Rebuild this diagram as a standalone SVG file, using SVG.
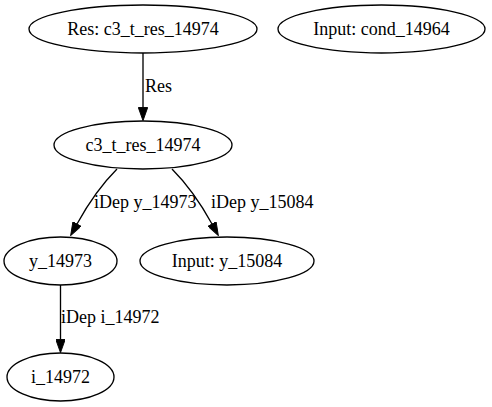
<svg xmlns="http://www.w3.org/2000/svg" width="492" height="407" viewBox="0 0 492 407">
<style>
.n ellipse{fill:none;stroke:#000;stroke-width:1.33}
text{font-family:"Liberation Serif","Times New Roman",serif;font-size:18px;fill:#000}
.n text{text-anchor:middle}
.e path{fill:none;stroke:#000;stroke-width:1.33}
</style>
<defs>
<marker id="ah" markerUnits="userSpaceOnUse" viewBox="0 0 14 10" refX="0" refY="5" markerWidth="14" markerHeight="9.4" orient="auto">
<path d="M0,0 L14,5 L0,10 z" fill="#000" stroke="#000"/>
</marker>
</defs>
<rect width="492" height="407" fill="#fff"/>
<g id="connectors" class="e">
<path d="M143,53 L143,107.5" marker-end="url(#ah)"/>
<text x="145" y="92">Res</text>
<path d="M117,169 C102,184 88,204 77,224" marker-end="url(#ah)"/>
<text x="94" y="208">iDep y_14973</text>
<path d="M172,169 C187,184 201,204 212,224" marker-end="url(#ah)"/>
<text x="211" y="208">iDep y_15084</text>
<path d="M60.5,285 L60.5,339.5" marker-end="url(#ah)"/>
<text x="61" y="323">iDep i_14972</text>
</g>
<g id="res_c3_t_res_14974" class="n"><ellipse cx="143" cy="29" rx="114" ry="24"/><text x="143" y="35">Res: c3_t_res_14974</text></g>
<g id="input_cond_14964" class="n"><ellipse cx="381.5" cy="29" rx="103.5" ry="24"/><text x="381.5" y="35">Input: cond_14964</text></g>
<g id="c3_t_res_14974" class="n"><ellipse cx="143" cy="145" rx="89" ry="24"/><text x="143" y="151">c3_t_res_14974</text></g>
<g id="y_14973" class="n"><ellipse cx="60.5" cy="261" rx="56.5" ry="24"/><text x="60.5" y="267">y_14973</text></g>
<g id="input_y_15084" class="n"><ellipse cx="227" cy="261" rx="87" ry="24"/><text x="227" y="267">Input: y_15084</text></g>
<g id="i_14972" class="n"><ellipse cx="60.5" cy="377" rx="53.5" ry="24"/><text x="60.5" y="383">i_14972</text></g>
</svg>
